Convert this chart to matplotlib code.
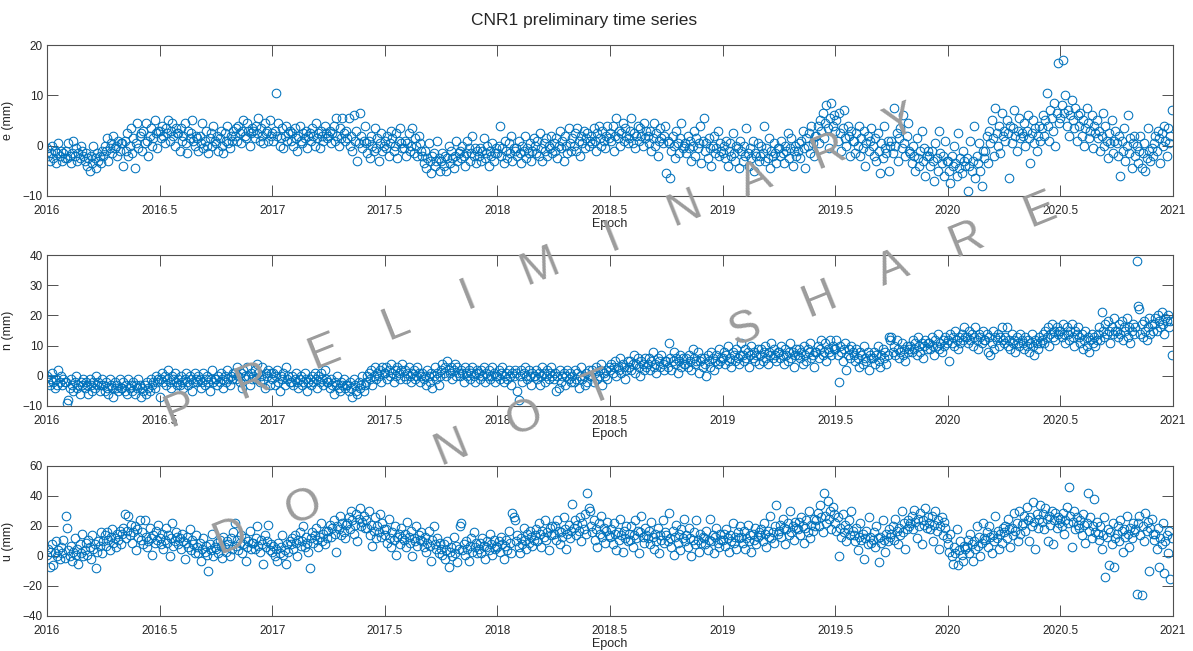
import math

import matplotlib

matplotlib.use("Agg")
import matplotlib.pyplot as plt
import numpy as np
from matplotlib.ticker import FuncFormatter

plt.rcParams["font.family"] = ["Liberation Sans", "DejaVu Sans"]

# Epoch span of the solutions (one value per 2 days, one row = one month)
START_EPOCH = 2016.0
END_EPOCH = 2021.0

E_MM = [
    -0.5, -2, -3, -1.5, 0, -2.5, -1, -3.5, -1.5, 0.5, -2, -1, -3, -1.5, -2.5,
    -1, -2.5, 0.5, -2, -3.5, -1.5, 1, -2, -0.5, -3, -1.5, -2.5, 0, -1, -2,
    -3, -1.5, -4, -2.5, -5, -2, -3.5, 0, -2.5, -4.5, -1.5, -3, -2, -3.5, -1,
    -2, 0, -1, 1.5, -3, -0.5, 0.5, -1.5, 2, -0.5, 0, -2, 1, -1, 0.5,
    0.5, -4, 1, -1, 2.5, -2, 0, 3.5, -1.5, 1.5, -4.5, 0.5, 4.5, -0.5, 2,
    2.5, -1, 3, 0.5, 4.5, 1, -2, 2, 3.5, 0, 1.5, 5, 2.5, -0.5, 3,
    3, 1.5, 4, 2, 0.5, 3.5, 2.5, 5, 1, 3, 4.5, 2, 0, 3.5, 2.5,
    2.5, -1, 3.5, 1, 2, 4.5, 0.5, -1.5, 3, 1.5, 2.5, 5, 1, 0, 2,
    1.5, -1, 2, 0.5, 4.5, -0.5, 1, 3, 0, -1.5, 1.5, 2.5, 0, 4, 1,
    0.5, 2, -1, 1.5, 3, 0, -1.5, 2.5, 1, 4, 0.5, -0.5, 2, 1, 3,
    2, 3.5, 1, 4, 2.5, 0.5, 3, 5, 2, 1.5, 4.5, 3, 0, 2.5, 3.5,
    3, 1.5, 4, 2.5, 5.5, 1, 3.5, 2, 0.5, 4.5, 2.5, 3, 1, 5, 2,
    2.5, 1, 3, 10.5, 2, 4.5, 0, 1.5, 3.5, -0.5, 2, 4, 1, 2.5, 3,
    1, 2.5, 0, 3.5, 1.5, -1, 2, 4, 1, 0.5, 2.5, 1.5, 3, -0.5, 2,
    2.5, 1, 3.5, 2, 0, 4.5, 1.5, 2.5, -0.5, 3, 2, 1, 4, 2.5, 1.5,
    2, 3, 0.5, 2.5, 4, 1, 5.5, 2, 0, 3.5, 1.5, 5.5, 2.5, 1, 3,
    1.5, 5.5, 0, 2, -1, 6, 1, 3, -3, 0.5, 6.5, 2, -0.5, 1, 4,
    0.5, -1.5, 1, -2.5, 2, 0, -1, 3.5, -0.5, 1.5, -3, 0.5, 2.5, -1, 0,
    1, -0.5, 2, -2, 0.5, 3, 1.5, -1, 0, 2.5, -2.5, 1, 3.5, 0.5, -0.5,
    -0.5, 1, -2, 0.5, 2.5, -1, 0, 3.5, -1.5, 1.5, 0, -2, 2, 0.5, -1,
    -2, -3.5, -1, -4.5, -2.5, 0.5, -3, -5.5, -2, -1.5, -4, -3, 1, -2.5, -5,
    -3, -1.5, -4, -2, -5, -2.5, 0, -3.5, -1, -2.5, -4.5, -2, 1, -3, -1.5,
    -1, -2.5, 0, -2, -4, -1.5, 1, -0.5, -3, -1.5, 2, -2, -0.5, -3.5, -1,
    -2, -0.5, -3, -1, 1.5, -2.5, -1.5, 0, -4, -1, -2, 0.5, -3, -1.5, -0.5,
    -1.5, 0, 4, -2, -0.5, -3.5, 1, -1, -2.5, 0.5, -1.5, 2, -3, -0.5, -1,
    -0.5, -2, 1, -1.5, -3.5, 0, -1, 2, -2.5, -0.5, -1.5, 0.5, -3, -1, 1.5,
    0, -1.5, 1, -2, 2.5, -0.5, -3, 0.5, -1, 1.5, -2, 0, -0.5, 2, -1.5,
    0.5, -1, 1.5, -2.5, 0, 3, -0.5, 1, -3, 2, 0, -1.5, 3.5, 0.5, -1,
    1.5, 0, 2.5, -1, 3.5, 1, -2, 2, 0.5, 3, -0.5, 1.5, 2.5, 0, 1,
    2, 0.5, 3.5, 1, -1, 2.5, 4, 1.5, 0, 3, 1, -0.5, 2, 4, 1.5,
    2.5, 1, 4, -1, 2, 5.5, 1.5, 3, 0, 2.5, 4.5, 1, 3.5, 2, 0.5,
    1.5, 3, 5.5, 0.5, 2.5, -0.5, 2, 4, 1, 3.5, 2, 0, 4.5, 1.5, 3,
    2, 0.5, 3, -1, 1.5, 4.5, 0, 2.5, -2, 1, 3.5, 1.5, 0.5, 2, 4,
    -5.5, 1, 0.5, -6.5, -1, 2, 0, -2.5, 3, 0.5, -1.5, 1.5, 4.5, -0.5, 0,
    0.5, -1.5, 2, -0.5, 1, -3, 0, 3, -2, 1.5, -0.5, 0.5, 4, -3.5, 1,
    5.5, -1, 0.5, -2.5, 1.5, -0.5, -4, 0, 2, -1.5, -0.5, 3, -2, 0.5, -1,
    -1.5, 0, -2.5, 1, -4, -1, 0.5, -2, 2.5, -1.5, -3, 0, -0.5, -4.5, 1,
    -1, -3, 0, -2, 3.5, -1.5, -4, -0.5, -2.5, 1, -5, -1.5, -2, 0.5, -3,
    -2, 0, -1.5, 4, -3, -0.5, -2.5, 1.5, -4.5, -1, -2, 0.5, -1.5, -3.5, -0.5,
    -0.5, -2, 1, -1.5, -3.5, 0, -1, 2.5, -2.5, -0.5, 1.5, -4, -1, 0, -2,
    -1, 0.5, -2.5, 1, 3, -0.5, -4.5, 1.5, 0, 2.5, -1.5, 4, 0.5, -2, 2,
    2, 4, 0.5, 5, 3, 6.5, 1.5, 4.5, 8, 3.5, -0.5, 5.5, 8.5, 4, 6,
    3, 5, 1, 6.5, 2.5, -1, 3.5, 7, 1.5, 0, 4, 2, -2, 3, 1,
    1, -1.5, 2.5, 0, 4, -2, 1.5, -0.5, 3, -4, 0.5, 2, -1, 1, 3.5,
    0, -2, 1.5, -3, 2.5, -1, -5.5, 0.5, -2.5, 4, -0.5, -1.5, 1, -5, 0,
    1, -1.5, 7.5, 0, 2.5, -3, 1.5, 3.5, -0.5, 6, 0.5, -2, 2, 4.5, -1,
    -1.5, -3.5, 0, -2, -5, 1.5, -2.5, -4, -1, 3, -3, -0.5, -6, -2, -1,
    -2, -4, -1, -3, -7, 0.5, -2.5, -5, 3, -1.5, -3.5, -2, -6, 1, -3,
    -3, -5, -7.5, -2, -4, 0, -3.5, -6, 2.5, -4.5, -2.5, -5.5, -1, -3, -4,
    -2.5, -9, -4, 1, -5, -3, 4, -6.5, -2, -3.5, 0.5, -5, -8, -1, -2.5,
    -1, 2, -3.5, 3, 0.5, 5, 1.5, -2, 7.5, 2.5, 0, 4, -1.5, 6.5, 2,
    3, 1, 5, 2.5, -6.5, 4, 0.5, 3.5, 7, 2, -1, 3, 5.5, 1.5, 2.5,
    2, 4.5, 0, 3, 6, 1.5, -3.5, 2.5, 5, 0.5, 3.5, -1, 2, 4, 1,
    3.5, 6, 2, 5, 10.5, 4, 1, 7, 5.5, 3, 8.5, 0, 6.5, 16.5, 4.5,
    5.5, 8, 17, 6.5, 10, 4, 7, 2, 6, 9, 5, 3.5, 7.5, 1, 6,
    4, 6.5, 2, 5, 0, 3.5, 7.5, 4.5, 1.5, 3, 6, -0.5, 4, 2.5, 5,
    1.5, 3, -1, 2, 6.5, 0, 4, 1, -2.5, 2.5, 0.5, 5, -1.5, 1, 3,
    0.5, -2, 2, -6, 1, -1, 3.5, -3, 0, 6, -1.5, 1.5, -4.5, 0.5, 2,
    -2, 0, -3.5, -1, 2, -4.5, -1.5, 0.5, -5, -2.5, 3.5, -1, -3, -0.5, -2,
    0.5, 2, -1, 3, 1.5, -3.5, 2.5, 0, 4, 1, -2, 3.5, 0.5, 2, 7,
]

N_MM = [
    0, -2, -3, -1, 1, -2, -4, -1, -3, 2, -2, 0, -3, -1, -2,
    -2, -9, -8, -4, -1, -3, -5, -2, 0, -4, -3, -6, -2, -3, -1,
    -4, -2, -3, -6, -1, -3, -5, -2, -4, 0, -3, -2, -5, -3, -1,
    -3, -5, -2, -4, -6, -1, -3, -4, -7, -2, -4, -3, -5, -1, -4,
    -4, -2, -5, -3, -6, -1, -4, -3, -5, -2, -6, -3, -4, -1, -3,
    -7, -4, -5, -3, -6, -2, -4, -5, -1, -3, -2, -4, 0, -2, -1,
    -7, -1, 1, -2, 0, -3, -1, 2, -2, -4, 0, -1, 1, -2, -3,
    -1, -3, 0, -2, -4, -1, 1, -2, -3, 0, -1, -5, -2, 1, -1,
    -2, 0, -1, -4, -2, 1, -3, -1, 0, -2, -5, -1, 2, -2, -1,
    -1, -3, 0, -2, 1, -1, -4, 0, -2, 2, -1, -3, 0, -1, 1,
    1, -1, 3, 0, -2, 1, -4, 2, 0, -1, 3, 0, -3, 1, -1,
    0, 2, -1, 4, 1, -2, 0, 3, -1, -4, 1, 0, 2, -3, 1,
    -1, 1, -3, 0, 2, -2, -5, 0, -1, 1, -3, 3, -1, 0, -2,
    -2, 0, -3, -1, 1, -2, -4, -1, 0, -3, -2, 1, -1, -5, -2,
    -1, -3, 0, -2, 1, -1, -4, 0, -2, 1, -1, -3, 2, -1, -2,
    -2, -4, -1, -3, -6, -2, -3, 0, -4, -5, -2, -3, -1, -4, -3,
    -3, -5, -2, -4, -7, -1, -3, -5, -6, -2, -4, -3, 0, -5, -3,
    -2, 0, 1, -1, 2, -3, 0, 3, -1, 1, 0, 2, -2, 3, 1,
    1, 3, -1, 2, 0, 4, 1, -2, 2, 0, 3, 1, -1, 2, 4,
    0, 2, -1, 1, 3, 0, -2, 1, 2, -1, 0, 3, 1, -2, 0,
    1, -1, 0, -3, 2, 0, -2, 1, -4, 0, 3, -1, 1, -3, 0,
    2, 4, 1, 3, 0, 5, 2, 1, 3, -1, 2, 4, 0, 3, 1,
    0, 2, 1, -2, 3, 1, 0, 2, -1, 1, 3, 0, -2, 1, 2,
    1, -1, 2, 0, 3, -2, 1, 0, 2, -1, 0, 3, 1, -2, 0,
    0, 2, -1, 1, 3, -2, 0, 1, -1, 2, 0, -3, 1, 0, 2,
    1, -5, -8, 0, 2, -2, 1, 3, 0, -1, 2, 0, -3, 1, 0,
    0, 2, -1, 1, -3, 0, 3, 1, -2, 0, 2, -1, 1, 3, 0,
    -1, 1, -5, 0, -4, 2, -2, 0, 1, -3, 0, 2, -1, 1, -2,
    0, -2, 2, -1, 1, -4, 0, 3, -1, 0, -3, 1, -2, 2, 0,
    0, 2, -2, 1, 3, -1, 0, 2, 4, -3, 1, 0, 2, -1, 3,
    2, 4, 1, 3, 5, 0, 3, 2, 6, 1, 4, 3, -1, 2, 5,
    3, 5, 2, 4, 7, 1, 4, 6, 3, 0, 5, 4, 2, 6, 3,
    4, 6, 2, 5, 8, 3, 4, 1, 6, 5, 3, 7, 4, 2, 5,
    5, 3, 11, 6, 2, 5, 8, 4, 6, 1, 5, 7, 3, 6, 4,
    4, 6, 3, 7, 5, 2, 9, 6, 4, 5, 8, 1, 5, 6, 3,
    6, 4, 0, 7, 5, 3, 8, 6, 2, 5, 7, 4, 9, 5, 6,
    6, 8, 4, 7, 10, 5, 6, 3, 8, 7, 5, 9, 6, 4, 7,
    11, 7, 5, 9, 6, 8, 3, 7, 10, 6, 8, 5, 7, 9, 4,
    7, 9, 5, 8, 10, 6, 4, 8, 7, 11, 6, 9, 7, 5, 8,
    8, 6, 10, 7, 4, 9, 7, 5, 8, 11, 6, 8, 3, 7, 9,
    7, 9, 6, 8, 4, 10, 7, 5, 9, 8, 11, 6, 7, 3, 8,
    8, 10, 6, 9, 12, 7, 8, 11, 5, 9, 8, 12, 7, 10, 9,
    9, 12, 7, -2, 10, 8, 5, 9, 11, 2, 7, 9, 6, 10, 8,
    7, 5, 9, 6, 3, 8, 7, 4, 10, 6, 5, 8, 2, 7, 6,
    6, 8, 4, 7, 10, 5, 3, 7, 9, 6, 8, 4, 7, 13, 12,
    13, 8, 10, 7, 12, 9, 6, 8, 11, 7, 9, 5, 10, 8, 9,
    10, 8, 12, 9, 11, 7, 13, 10, 8, 11, 6, 10, 12, 9, 11,
    11, 9, 13, 10, 7, 12, 10, 14, 9, 11, 8, 12, 10, 13, 11,
    12, 5, 14, 11, 13, 10, 15, 12, 9, 13, 11, 14, 12, 16, 13,
    13, 11, 15, 12, 14, 10, 13, 16, 12, 9, 14, 13, 11, 15, 12,
    12, 14, 8, 13, 7, 11, 15, 9, 13, 12, 14, 10, 13, 16, 12,
    11, 13, 16, 10, 12, 9, 14, 11, 12, 8, 13, 11, 10, 14, 12,
    11, 9, 13, 10, 12, 8, 11, 14, 10, 7, 12, 11, 9, 13, 11,
    12, 14, 11, 15, 13, 16, 10, 14, 17, 13, 15, 12, 16, 14, 15,
    15, 13, 17, 14, 11, 16, 14, 12, 15, 17, 13, 10, 15, 14, 16,
    13, 11, 14, 9, 12, 15, 10, 13, 8, 12, 14, 11, 13, 10, 12,
    14, 16, 12, 21, 15, 13, 17, 14, 18, 15, 11, 16, 14, 19, 15,
    15, 13, 17, 14, 18, 12, 16, 15, 19, 13, 16, 11, 15, 17, 14,
    16, 38, 23, 22, 14, 17, 13, 18, 15, 12, 16, 19, 14, 17, 15,
    17, 19, 15, 20, 18, 16, 21, 17, 14, 19, 18, 20, 16, 18, 7,
]

U_MM = [
    1, 5, -7, 3, 8, -6, 2, 10, 0, 4, -2, 6, 2, 11, -1,
    27, 19, 4, 0, 7, -3, 3, 12, 1, 5, -5, 8, 2, 15, 0,
    4, 9, 1, 11, 6, -2, 14, 5, 8, -8, 3, 10, 7, 16, 2,
    10, 14, 7, 16, 11, 4, 13, 18, 9, 12, 6, 15, 11, 17, 8,
    15, 19, 28, 12, 17, 27, 14, 21, 9, 16, 20, 4, 18, 13, 24,
    11, 16, 8, 24, 13, 6, 10, 19, 12, 1, 14, 9, 17, 11, 21,
    12, 8, 15, 5, 11, 19, 9, 14, 0, 12, 22, 7, 10, 16, 13,
    8, 12, 5, 15, 10, -2, 9, 13, 6, 18, 4, 11, 8, 2, 14,
    6, 2, 9, -3, 5, 12, 3, 7, 1, -10, 8, 4, 15, 0, 6,
    5, 9, 2, 11, 7, -1, 13, 6, 3, 10, 8, 0, 12, 5, 16,
    22, 7, 11, 4, 9, 14, 2, 8, 12, -3, 6, 10, 17, 5, 9,
    9, 5, 12, 20, 7, 3, 11, 8, -5, 14, 6, 10, 21, 4, 8,
    3, 7, 0, 5, -3, 9, 2, 6, 14, 1, 4, -5, 8, 3, 10,
    8, 12, 5, 14, 9, 0, 11, 16, 7, 10, 20, 6, 13, 9, 3,
    -8, 12, 16, 9, 14, 19, 11, 6, 13, 22, 10, 15, 8, 17, 12,
    17, 21, 13, 19, 24, 15, 3, 20, 18, 27, 14, 22, 16, 12, 21,
    22, 26, 18, 30, 24, 15, 21, 28, 10, 25, 32, 20, 23, 27, 19,
    24, 19, 30, 14, 21, 7, 17, 26, 12, 20, 16, 28, 13, 22, 18,
    14, 18, 9, 25, 12, 6, 16, 11, 20, 1, 13, 15, 8, 19, 12,
    11, 15, 6, 23, 13, 9, 17, 0, 12, 10, 20, 7, 14, 11, 16,
    10, 6, 13, 3, 9, 17, 7, -3, 11, 20, 8, 5, 12, 2, 9,
    5, 1, 8, -2, 4, 10, -7, 3, 6, 0, 13, 2, 7, -4, 5,
    20, 22, 4, 8, 1, 10, 5, -3, 7, 12, 3, 16, 6, 9, 2,
    5, 9, 2, 12, 7, -2, 6, 10, 4, 15, 8, 1, 11, 5, 7,
    6, 10, 3, 13, 8, -2, 7, 11, 4, 17, 9, 2, 29, 26, 24,
    10, 14, 6, 2, 12, 8, 19, 11, 5, 15, 9, 17, 13, 7, 11,
    14, 18, 10, 22, 15, 6, 17, 13, 24, 11, 16, 4, 19, 14, 20,
    15, 20, 11, 24, 17, 8, 16, 13, 26, 18, 5, 15, 21, 12, 17,
    35, 19, 24, 14, 21, 17, 26, 10, 22, 18, 28, 15, 42, 32, 30,
    20, 16, 24, 11, 18, 6, 22, 15, 27, 13, 19, 9, 17, 23, 14,
    13, 18, 8, 22, 15, 4, 16, 11, 25, 14, 3, 17, 12, 20, 10,
    15, 11, 20, 6, 14, 24, 12, 17, 2, 16, 27, 13, 9, 19, 14,
    12, 17, 8, 23, 13, 5, 15, 10, 19, 2, 14, 11, 24, 9, 16,
    14, 10, 29, 12, 6, 17, 1, 13, 21, 9, 15, 4, 18, 12, 25,
    10, 14, 6, 19, 12, 0, 11, 16, 8, 24, 11, 3, 15, 9, 13,
    12, 8, 17, 4, 11, 25, 10, 14, 2, 13, 19, 9, 6, 15, 11,
    11, 15, 7, 18, 12, 3, 14, 10, 22, 9, 13, 5, 16, 12, 20,
    13, 9, 17, 5, 12, 21, 10, 14, 3, 15, 11, 19, 8, 13, 16,
    14, 18, 10, 22, 15, 6, 17, 13, 27, 12, 16, 9, 20, 34, 15,
    17, 21, 13, 25, 19, 8, 18, 22, 14, 30, 16, 20, 11, 23, 19,
    18, 23, 14, 26, 20, 9, 19, 24, 16, 30, 12, 21, 17, 25, 20,
    24, 29, 20, 34, 26, 16, 42, 27, 22, 37, 25, 30, 18, 33, 28,
    22, 17, 26, 0, 19, 13, 28, 16, 21, 10, 18, 24, 14, 30, 17,
    14, 10, 19, 4, 13, 22, 11, 15, -2, 12, 17, 8, 26, 13, 9,
    11, 16, 6, 20, 12, -4, 13, 9, 24, 11, 3, 15, 10, 18, 13,
    15, 20, 11, 25, 17, 8, 19, 14, 30, 16, 22, 5, 18, 24, 20,
    22, 27, 18, 31, 23, 12, 25, 20, 29, 8, 24, 21, 32, 19, 26,
    22, 18, 27, 10, 21, 30, 17, 24, 5, 20, 26, 14, 23, 19, 12,
    8, 3, 15, 0, -5, 6, 2, 18, -6, 4, 10, 1, -3, 7, 5,
    6, 11, 2, 15, 8, -3, 10, 5, 20, 7, 13, 0, 9, 22, 12,
    11, 16, 6, 20, 13, 2, 14, 10, 27, 12, 17, 5, 15, 9, 19,
    16, 20, 12, 25, 18, 6, 19, 14, 29, 17, 22, 10, 30, 15, 21,
    22, 27, 17, 33, 24, 10, 26, 20, 36, 23, 5, 28, 19, 25, 34,
    23, 28, 18, 32, 25, 10, 27, 21, 30, 8, 24, 29, 19, 26, 22,
    25, 20, 29, 15, 24, 33, 22, 46, 27, 6, 23, 30, 18, 26, 21,
    19, 24, 14, 28, 21, 9, 22, 42, 17, 26, 12, 20, 38, 16, 23,
    15, 11, 20, 5, 14, 26, -14, 13, 18, -6, 16, 8, 22, -7, 12,
    15, 20, 10, 24, 17, 3, 18, 13, 27, 15, 6, 19, 12, 22, 16,
    18, -25, 22, 27, 14, -26, 20, 10, 29, 17, 23, -10, 19, 25, 15,
    11, 15, 5, 19, -7, 12, 8, 22, -11, 10, 14, 2, 17, -15, 12,
]

COMPONENTS = ["e (mm)", "n (mm)", "u (mm)"]
Y_TICKS = [
    [-10, 0, 10, 20],
    [-10, 0, 10, 20, 30, 40],
    [-40, -20, 0, 20, 40, 60],
]
X_TICKS = [2016, 2016.5, 2017, 2017.5, 2018, 2018.5, 2019, 2019.5, 2020,
           2020.5, 2021]
TITLE = "CNR1 preliminary time series"
WATERMARKS = ["PRELIMINARY", "DO NOT SHARE"]

W, H = 1193, 651
MATLAB_BLUE = (0.0, 0.447, 0.741)
TEXT_GRAY = "#262626"
SPINE_GRAY = "#505050"


def px_to_fig(x, y):
    return x / W, 1 - y / H


def draw_watermark(fig, text, start, end):
    x0, y0 = start
    x1, y1 = end
    angle = math.degrees(math.atan2(y0 - y1, x1 - x0))
    steps = len(text) - 1
    for i, ch in enumerate(text):
        if ch == " ":
            continue
        x = x0 + (x1 - x0) * i / steps
        y = y0 + (y1 - y0) * i / steps
        fx, fy = px_to_fig(x, y)
        fig.text(fx, fy, ch, fontsize=33, color="#9c9c9c", rotation=angle,
                 ha="center", va="center", rotation_mode="anchor", zorder=10)


def main():
    fig = plt.figure(figsize=(W / 100, H / 100), dpi=100)

    # axes boxes in pixels: (top, bottom)
    boxes = [(45, 196), (255, 406), (466, 616)]
    left, right = 47, 1173
    series = [E_MM, N_MM, U_MM]

    for (top, bottom), label, values, yticks in zip(boxes, COMPONENTS,
                                                    series, Y_TICKS):
        ax = fig.add_axes([left / W, 1 - bottom / H, (right - left) / W,
                           (bottom - top) / H])
        values = np.asarray(values, dtype=float)
        epochs = np.linspace(START_EPOCH, END_EPOCH, len(values),
                             endpoint=False)
        ax.plot(epochs, values, "o", mfc="none", mec=MATLAB_BLUE, ms=6.2,
                mew=0.75)
        ax.set_xlim(START_EPOCH, END_EPOCH)
        ax.set_ylim(yticks[0], yticks[-1])
        ax.set_xticks(X_TICKS)
        ax.set_yticks(yticks)
        ax.xaxis.set_major_formatter(FuncFormatter(lambda v, p: f"{v:g}"))
        ax.tick_params(direction="in", top=True, right=True, length=8,
                       width=0.7, color=SPINE_GRAY, labelsize=8.5,
                       labelcolor=TEXT_GRAY)
        ax.tick_params(axis="x", pad=6.5)
        ax.tick_params(axis="y", pad=3)
        for spine in ax.spines.values():
            spine.set_linewidth(0.8)
            spine.set_color(SPINE_GRAY)
        ax.set_xlabel("Epoch", fontsize=9, color=TEXT_GRAY, labelpad=1)
        ax.set_ylabel(label, fontsize=9, color=TEXT_GRAY, labelpad=6)

    fx, fy = px_to_fig(584, 20)
    fig.text(fx, fy, TITLE, fontsize=12.5, color=TEXT_GRAY, ha="center",
             va="center")

    draw_watermark(fig, WATERMARKS[0], (180, 410), (900, 123))
    draw_watermark(fig, WATERMARKS[1], (230, 537), (1040, 210))

    fig.savefig("out.png", dpi=100)
    plt.close(fig)


if __name__ == "__main__":
    main()
